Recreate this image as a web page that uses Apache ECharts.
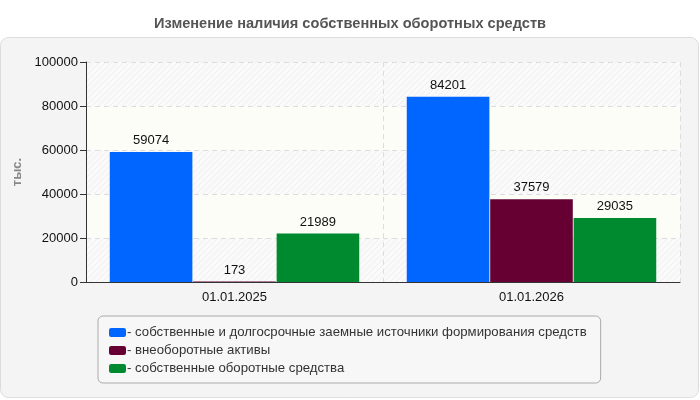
<!DOCTYPE html>
<html>
<head>
<meta charset="utf-8">
<script src="https://cdn.jsdelivr.net/npm/echarts@6/dist/echarts.min.js"></script>
<style>
html, body { margin: 0; padding: 0; background: #fff; }
#chart { width: 700px; height: 400px; }
</style>
</head>
<body>
<div id="chart"></div>
<script>
var categories = ['01.01.2025', '01.01.2026'];
var seriesNames = [
    'собственные и долгосрочные заемные источники формирования средств',
    'внеоборотные активы',
    'собственные оборотные средства'
];
var ownAndLongTerm = [59074, 84201];
var nonCurrent = [173, 37579];
var workingCapital = [21989, 29035];
var colors = ['#0066ff', '#660033', '#008a30'];

// diagonal hatch for the striped bands
var hatch = document.createElement('canvas');
hatch.width = 6;
hatch.height = 6;
var hc = hatch.getContext('2d');
hc.fillStyle = '#fafafa';
hc.fillRect(0, 0, 6, 6);
hc.strokeStyle = '#efefef';
hc.lineWidth = 1;
hc.beginPath();
hc.moveTo(0, 6); hc.lineTo(6, 0);
hc.moveTo(-3, 3); hc.lineTo(3, -3);
hc.moveTo(3, 9); hc.lineTo(9, 3);
hc.stroke();

var myChart = echarts.init(document.getElementById('chart'));

function bar(name, data, color) {
    return {
        name: name,
        type: 'bar',
        data: data,
        barGap: '1%',
        barCategoryGap: '16%',
        itemStyle: { color: color },
        label: {
            show: true,
            position: 'top',
            distance: 5,
            color: '#111',
            fontSize: 13,
            fontFamily: 'Liberation Sans'
        }
    };
}

option = {
    animation: false,
    textStyle: { fontFamily: 'Liberation Sans' },
    title: {
        text: 'Изменение наличия собственных оборотных средств',
        left: 'center',
        top: 11,
        textStyle: { color: '#555', fontSize: 14.6, fontWeight: 'bold', fontFamily: 'Liberation Sans' }
    },
    graphic: [{
        type: 'rect',
        z: -10,
        shape: { x: 0.5, y: 37.5, width: 698, height: 360, r: 8 },
        style: { fill: '#f4f4f4', stroke: '#dddddd', lineWidth: 1 }
    }],
    legend: {
        orient: 'vertical',
        left: 98,
        top: 316,
        padding: [10, 14, 8, 11],
        width: 490,
        itemWidth: 17,
        itemHeight: 9,
        itemGap: 5,
        icon: 'roundRect',
        backgroundColor: '#f7f7f7',
        borderColor: '#aaaaaa',
        borderWidth: 1,
        borderRadius: 5,
        formatter: function (name) { return '- ' + name; },
        textStyle: { color: '#333', fontSize: 13.2, padding: [0, 0, 0, -4] },
        data: seriesNames
    },
    grid: { left: 86, right: 20, top: 62, bottom: 118, containLabel: false },
    xAxis: {
        type: 'category',
        data: categories,
        axisLine: { lineStyle: { color: '#333' } },
        axisTick: { alignWithLabel: true, length: 6, lineStyle: { color: '#333' } },
        axisLabel: { color: '#111', fontSize: 13, margin: 9 },
        splitLine: { show: true, interval: 0, lineStyle: { color: '#dddddd', type: [5, 4] } }
    },
    yAxis: {
        type: 'value',
        min: 0,
        max: 100000,
        interval: 20000,
        name: 'тыс.',
        nameLocation: 'middle',
        nameRotate: 90,
        nameGap: 55,
        nameTextStyle: { color: '#888', fontSize: 13, fontWeight: 'bold' },
        axisLine: { show: true, lineStyle: { color: '#333' } },
        axisTick: { show: true, length: 6, lineStyle: { color: '#333' } },
        axisLabel: { color: '#111', fontSize: 13, margin: 8, formatter: function (v) { return String(v); } },
        splitLine: { lineStyle: { color: '#dddddd', type: [5, 4] } },
        splitArea: {
            show: true,
            areaStyle: { color: [{ image: hatch, repeat: 'repeat' }, '#fdfdf8'] }
        }
    },
    series: [
        bar(seriesNames[0], ownAndLongTerm, colors[0]),
        bar(seriesNames[1], nonCurrent, colors[1]),
        bar(seriesNames[2], workingCapital, colors[2])
    ]
};
myChart.setOption(option);
</script>
</body>
</html>
